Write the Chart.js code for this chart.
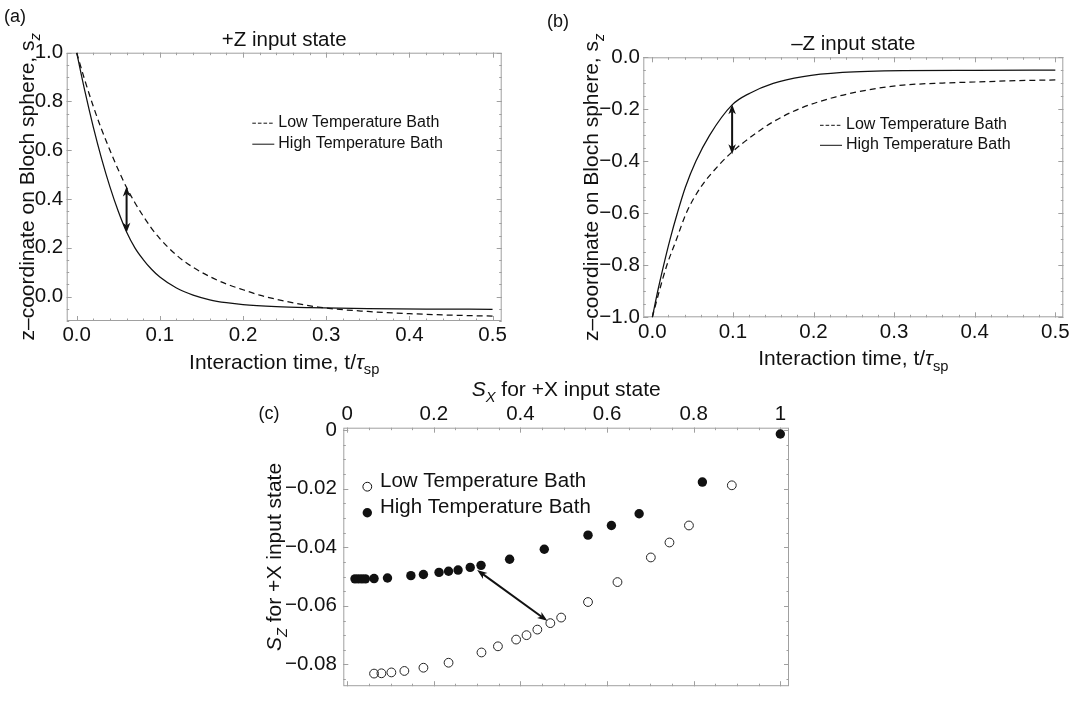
<!DOCTYPE html>
<html>
<head>
<meta charset="utf-8">
<title>Bath temperature and Bloch vector relaxation</title>
<script src="https://cdn.jsdelivr.net/npm/chart.js@4.4.0/dist/chart.umd.min.js"></script>
<style>
  html, body { margin: 0; padding: 0; background: #fff; }
  body { width: 1086px; height: 702px; position: relative; overflow: hidden; }
  canvas { position: absolute; }
  #chartA { left: 0; top: 0; }
  #chartB { left: 545px; top: 0; }
  #chartC { left: 250px; top: 370px; }
</style>
</head>
<body>
<canvas id="chartA" width="540" height="380"></canvas>
<canvas id="chartB" width="541" height="380"></canvas>
<canvas id="chartC" width="560" height="335"></canvas>
<script>
/* ===== DATA: (a) +Z input state ===== */
const aLowT  = [0, 0.01, 0.02, 0.03, 0.04, 0.05, 0.06, 0.07, 0.08, 0.09, 0.1, 0.12, 0.14, 0.16, 0.18, 0.2, 0.22, 0.25, 0.29, 0.35, 0.4, 0.45, 0.5];
const aLowS  = [1, 0.885, 0.78, 0.685, 0.6, 0.52, 0.447, 0.385, 0.33, 0.28, 0.238, 0.17, 0.12, 0.082, 0.052, 0.028, 0.006, -0.018, -0.043, -0.061, -0.07, -0.076, -0.08];
const aHighT = [0, 0.01, 0.02, 0.03, 0.04, 0.05, 0.06, 0.07, 0.08, 0.09, 0.1, 0.12, 0.14, 0.16, 0.18, 0.2, 0.24, 0.28, 0.35, 0.42, 0.5];
const aHighS = [1, 0.84, 0.695, 0.565, 0.45, 0.35, 0.265, 0.2, 0.152, 0.112, 0.08, 0.035, 0.006, -0.013, -0.025, -0.033, -0.041, -0.045, -0.049, -0.051, -0.052];
const aXTicks = [0, 0.1, 0.2, 0.3, 0.4, 0.5];
const aXLabels = ["0.0", "0.1", "0.2", "0.3", "0.4", "0.5"];
const aYTicks = [0, 0.2, 0.4, 0.6, 0.8, 1.0];
const aYLabels = ["0.0", "0.2", "0.4", "0.6", "0.8", "1.0"];
const aArrow = [0.06, 0.262, 0.06, 0.451];

/* ===== DATA: (b) -Z input state ===== */
const bLowT  = [0, 0.009, 0.018, 0.03, 0.042, 0.06, 0.084, 0.099, 0.125, 0.15, 0.183, 0.228, 0.278, 0.311, 0.36, 0.4, 0.45, 0.5];
const bLowS  = [-1, -0.895, -0.8, -0.7, -0.6, -0.5, -0.41, -0.364, -0.3, -0.248, -0.197, -0.152, -0.12, -0.107, -0.099, -0.095, -0.09, -0.087];
const bHighT = [0, 0.007, 0.014, 0.022, 0.031, 0.041, 0.054, 0.071, 0.099, 0.121, 0.15, 0.187, 0.236, 0.311, 0.4, 0.5];
const bHighS = [-1, -0.895, -0.8, -0.7, -0.6, -0.5, -0.4, -0.3, -0.183, -0.138, -0.1, -0.074, -0.058, -0.051, -0.05, -0.049];
const bXTicks = [0, 0.1, 0.2, 0.3, 0.4, 0.5];
const bXLabels = ["0.0", "0.1", "0.2", "0.3", "0.4", "0.5"];
const bYTicks = [-1, -0.8, -0.6, -0.4, -0.2, 0];
const bYLabels = ["\u22121.0", "\u22120.8", "\u22120.6", "\u22120.4", "\u22120.2", "0.0"];
const bArrow = [0.099, -0.181, 0.099, -0.373];

/* ===== DATA: (c) +X input state ===== */
const cLowX  = [0.062, 0.079, 0.102, 0.132, 0.176, 0.234, 0.310, 0.348, 0.390, 0.414, 0.439, 0.469, 0.494, 0.556, 0.624, 0.701, 0.744, 0.789, 0.888];
const cLowY  = [-0.0831, -0.0830, -0.0827, -0.0822, -0.0811, -0.0794, -0.0759, -0.0738, -0.0715, -0.0700, -0.0681, -0.0659, -0.0640, -0.0587, -0.0519, -0.0435, -0.0384, -0.0326, -0.0189];
const cHighX = [0.018, 0.026, 0.034, 0.042, 0.062, 0.093, 0.147, 0.176, 0.212, 0.234, 0.256, 0.284, 0.309, 0.375, 0.455, 0.556, 0.610, 0.674, 0.820, 1.0];
const cHighY = [-0.0508, -0.0508, -0.0508, -0.0508, -0.0507, -0.0505, -0.0497, -0.0493, -0.0486, -0.0482, -0.0478, -0.0469, -0.0462, -0.0441, -0.0407, -0.0359, -0.0326, -0.0286, -0.0178, -0.0014];
const cXTicks = [0, 0.2, 0.4, 0.6, 0.8, 1];
const cXLabels = ["0", "0.2", "0.4", "0.6", "0.8", "1"];
const cYTicks = [0, -0.02, -0.04, -0.06, -0.08];
const cYLabels = ["0", "\u22120.02", "\u22120.04", "\u22120.06", "\u22120.08"];
const cArrow = [0.300, -0.0478, 0.462, -0.0651];

/* ===== STYLE ===== */
const INK = "#111";
const FRAME = "#a0a0a0";
const FONT = "'Liberation Sans', Arial, Helvetica, sans-serif";
Chart.defaults.font.family = FONT;
Chart.defaults.color = INK;

const pts = (xs, ys) => xs.map((x, i) => ({ x, y: ys[i] }));
const fixedTicks = values => s => { s.ticks = values.map(v => ({ value: v })); };
const tickFont = { family: FONT, size: 20.5 };

/* ===== PLUGINS ===== */
function stepsIn(min, max, step) {
  const out = [];
  for (let v = Math.ceil(min / step - 1e-9) * step; v <= max + 1e-12; v += step) out.push(v);
  return out;
}

// gray frame with inward ticks on all four sides (major + minor)
const framePlugin = {
  id: "frame",
  beforeDatasetsDraw(chart, args, o) {
    const { ctx, chartArea: a, scales: { x, y } } = chart;
    ctx.save();
    ctx.strokeStyle = FRAME;
    ctx.lineWidth = 1;
    ctx.strokeRect(a.left + 0.5, a.top + 0.5, a.width - 1, a.height - 1);
    const xt = (v, len) => {
      const p = Math.round(x.getPixelForValue(v)) + 0.5;
      ctx.moveTo(p, a.top); ctx.lineTo(p, a.top + len);
      ctx.moveTo(p, a.bottom); ctx.lineTo(p, a.bottom - len);
    };
    const yt = (v, len) => {
      const p = Math.round(y.getPixelForValue(v)) + 0.5;
      ctx.moveTo(a.left, p); ctx.lineTo(a.left + len, p);
      ctx.moveTo(a.right, p); ctx.lineTo(a.right - len, p);
    };
    ctx.beginPath();
    stepsIn(x.min, x.max, o.xMinor).forEach(v => xt(v, 2.5));
    stepsIn(y.min, y.max, o.yMinor).forEach(v => yt(v, 2.5));
    x.ticks.forEach(t => xt(t.value, 5));
    y.ticks.forEach(t => yt(t.value, 5));
    ctx.stroke();
    ctx.restore();
  }
};

function arrowHead(ctx, px, py, ang, len, wid) {
  const c = Math.cos(ang), s = Math.sin(ang);
  ctx.beginPath();
  ctx.moveTo(px, py);
  ctx.lineTo(px - len * c - wid / 2 * s, py - len * s + wid / 2 * c);
  ctx.lineTo(px - 0.72 * len * c, py - 0.72 * len * s);
  ctx.lineTo(px - len * c + wid / 2 * s, py - len * s - wid / 2 * c);
  ctx.closePath();
  ctx.fill();
}

// double headed arrow between two data points
const arrowPlugin = {
  id: "arrow",
  afterDatasetsDraw(chart, args, o) {
    if (!o.line) return;
    const { ctx, scales: { x, y } } = chart;
    const [x1, y1, x2, y2] = o.line;
    const ax = x.getPixelForValue(x1), ay = y.getPixelForValue(y1);
    const bx = x.getPixelForValue(x2), by = y.getPixelForValue(y2);
    const ang = Math.atan2(by - ay, bx - ax);
    const L = o.head, k = 0.7 * L;
    ctx.save();
    ctx.strokeStyle = ctx.fillStyle = INK;
    ctx.lineWidth = o.width;
    ctx.beginPath();
    ctx.moveTo(ax + k * Math.cos(ang), ay + k * Math.sin(ang));
    ctx.lineTo(bx - k * Math.cos(ang), by - k * Math.sin(ang));
    ctx.stroke();
    arrowHead(ctx, bx, by, ang, L, o.spread);
    arrowHead(ctx, ax, ay, ang + Math.PI, L, o.spread);
    ctx.restore();
  }
};

// legend placed inside the plot frame
const keyPlugin = {
  id: "key",
  afterDraw(chart, args, o) {
    const { ctx, chartArea: a } = chart;
    ctx.save();
    ctx.font = `${o.size}px ${FONT}`;
    ctx.textBaseline = "middle";
    chart.data.datasets.forEach((ds, i) => {
      const x = a.left + o.x, y = a.top + o.y + i * o.gap;
      ctx.strokeStyle = ctx.fillStyle = INK;
      if (o.kind === "line") {
        ctx.lineWidth = 1;
        ctx.setLineDash(ds.borderDash ? [3.6, 2] : []);
        ctx.beginPath(); ctx.moveTo(x, y + 1); ctx.lineTo(x + o.sample, y + 1); ctx.stroke();
        ctx.setLineDash([]);
      } else {
        ctx.lineWidth = 1;
        ctx.beginPath();
        ctx.arc(x, y + o.markDy, ds.pointRadius, 0, 2 * Math.PI);
        if (ds.pointBackgroundColor === INK) ctx.fill(); else ctx.stroke();
      }
      ctx.fillStyle = INK;
      ctx.fillText(ds.label, x + o.textDx, y);
    });
    ctx.restore();
  }
};

// titles with sub scripts and italics, plus the panel tag
function drawRich(ctx, parts, cx, cy, size, rot) {
  ctx.save();
  ctx.translate(cx, cy);
  ctx.rotate(rot);
  ctx.textBaseline = "alphabetic";
  ctx.fillStyle = INK;
  const segs = parts.map(p => {
    const f = `${p.it ? "italic " : ""}${p.sub ? size * 0.7 : size}px ${FONT}`;
    ctx.font = f;
    return { ...p, f, w: ctx.measureText(p.t).width };
  });
  let x = -segs.reduce((s, g) => s + g.w, 0) / 2;
  const base = size * 0.36;
  segs.forEach(g => {
    ctx.font = g.f;
    ctx.fillText(g.t, x, base + (g.sub ? size * 0.28 : 0));
    x += g.w;
  });
  ctx.restore();
}

const titlesPlugin = {
  id: "richTitles",
  afterDraw(chart, args, o) {
    const { ctx, chartArea: a } = chart;
    const cx = (a.left + a.right) / 2, cy = (a.top + a.bottom) / 2;
    if (o.title) drawRich(ctx, [{ t: o.title }], cx, a.top + o.titleDy, 20.5, 0);
    const xy = o.x.from === "top" ? a.top + o.x.dy : a.bottom + o.x.dy;
    drawRich(ctx, o.x.parts, cx, xy, o.size, 0);
    drawRich(ctx, o.y.parts, a.left + o.y.dx, cy, o.size, -Math.PI / 2);
    ctx.save();
    ctx.font = `18px ${FONT}`;
    ctx.fillStyle = INK;
    ctx.textAlign = "center";
    ctx.textBaseline = "middle";
    ctx.fillText(o.tag.text, o.tag.x, o.tag.y);
    ctx.restore();
  }
};

/* ===== TITLES ===== */
const timeTitle = [{ t: "Interaction time, t/" }, { t: "\u03c4", it: true }, { t: "sp", sub: true }];
const blochTitle = [{ t: "z\u2013coordinate on Bloch sphere, s" }, { t: "z", sub: true, it: true }];
const sxTitle = [{ t: "S", it: true }, { t: "X", sub: true, it: true }, { t: " for +X input state" }];
const szTitle = [{ t: "S", it: true }, { t: "Z", sub: true, it: true }, { t: " for +X input state" }];

/* ===== CHARTS ===== */
function curveChart(id, c) {
  return new Chart(document.getElementById(id), {
    type: "line",
    data: {
      datasets: [
        { label: "Low Temperature Bath", data: pts(c.lowT, c.lowS), borderColor: INK, borderWidth: 1.25,
          borderDash: [6, 4], pointRadius: 0, cubicInterpolationMode: "monotone" },
        { label: "High Temperature Bath", data: pts(c.highT, c.highS), borderColor: INK, borderWidth: 1.25,
          pointRadius: 0, cubicInterpolationMode: "monotone" }
      ]
    },
    options: {
      responsive: false, animation: false, events: [],
      layout: { padding: { left: 0, right: c.padRight, top: c.padTop, bottom: 0 } },
      plugins: {
        legend: { display: false },
        tooltip: { enabled: false },
        title: { display: false },
        frame: { xMinor: 0.02, yMinor: 0.05 },
        arrow: { line: c.arrow, head: 10, spread: 7.5, width: 2 },
        key: { kind: "line", x: c.keyX, y: c.keyY, gap: c.keyGap, sample: 22, textDx: 26, size: 16 },
        richTitles: { size: 21, title: c.title, titleDy: -14.5,
                      x: { parts: timeTitle, dy: 40 }, y: { parts: blochTitle, dx: c.yTitleDx }, tag: c.tag }
      },
      scales: {
        x: { type: "linear", min: c.xMin, max: c.xMax,
             grid: { display: false, drawTicks: false }, border: { display: false },
             afterBuildTicks: fixedTicks(c.xTicks), afterFit: s => { s.height = c.xHeight; },
             ticks: { callback: (v, i) => c.xLabels[i], font: tickFont, color: INK, padding: 2.5, maxRotation: 0, autoSkip: false } },
        y: { type: "linear", min: c.yMin, max: c.yMax,
             grid: { display: false, drawTicks: false }, border: { display: false },
             afterBuildTicks: fixedTicks(c.yTicks), afterFit: s => { s.width = c.yWidth; },
             ticks: { callback: (v, i) => c.yLabels[i], font: tickFont, color: INK, padding: 3.5, autoSkip: false } }
      }
    },
    plugins: [framePlugin, arrowPlugin, keyPlugin, titlesPlugin]
  });
}

curveChart("chartA", {
  lowT: aLowT, lowS: aLowS, highT: aHighT, highS: aHighS, arrow: aArrow,
  xTicks: aXTicks, xLabels: aXLabels, yTicks: aYTicks, yLabels: aYLabels,
  xMin: -0.012, xMax: 0.511, yMin: -0.1, yMax: 1.0,
  title: "+Z input state", padTop: 52.7,
  padRight: 38.3, xHeight: 59, yWidth: 66.7,
  keyX: 185.6, keyY: 69.5, keyGap: 21,
  yTitleDx: -40, tag: { text: "(a)", x: 15, y: 17 }
});

curveChart("chartB", {
  lowT: bLowT, lowS: bLowS, highT: bHighT, highS: bHighS, arrow: bArrow,
  xTicks: bXTicks, xLabels: bXLabels, yTicks: bYTicks, yLabels: bYLabels,
  xMin: -0.0112, xMax: 0.5099, yMin: -1.0, yMax: 0,
  title: "\u2013Z input state", padTop: 57.3,
  padRight: 22.7, xHeight: 62.7, yWidth: 98.3,
  keyX: 176.7, keyY: 67, keyGap: 20,
  yTitleDx: -53, tag: { text: "(b)", x: 13, y: 22 }
});

new Chart(document.getElementById("chartC"), {
  type: "scatter",
  data: {
    datasets: [
      { label: "Low Temperature Bath", data: pts(cLowX, cLowY), pointRadius: 4.4, pointBorderWidth: 1,
        pointBorderColor: "#222", pointBackgroundColor: "rgba(0,0,0,0)" },
      { label: "High Temperature Bath", data: pts(cHighX, cHighY), pointRadius: 4.7, pointBorderWidth: 0,
        pointBorderColor: INK, pointBackgroundColor: INK }
    ]
  },
  options: {
    responsive: false, animation: false, events: [],
    layout: { padding: { left: 0, right: 21, top: 0, bottom: 2 } },
    plugins: {
      legend: { display: false },
      tooltip: { enabled: false },
      frame: { xMinor: 0.05, yMinor: 0.005 },
      arrow: { line: cArrow, head: 10, spread: 7.5, width: 2 },
      key: { kind: "point", x: 24, y: 54, gap: 26, textDx: 12.7, markDy: 5, size: 20.5 },
      richTitles: { size: 21, x: { parts: sxTitle, from: "top", dy: -39 }, y: { parts: szTitle, dx: -70 },
                    tag: { text: "(c)", x: 19, y: 44 } }
    },
    scales: {
      x: { type: "linear", position: "top", min: -0.009, max: 1.02,
           grid: { display: false, drawTicks: false }, border: { display: false },
           afterBuildTicks: fixedTicks(cXTicks), afterFit: s => { s.height = 57.7; },
           ticks: { callback: (v, i) => cXLabels[i], font: tickFont, color: INK, padding: 1, maxRotation: 0, autoSkip: false } },
      y: { type: "linear", min: -0.0874, max: 0.00074,
           grid: { display: false, drawTicks: false }, border: { display: false },
           afterBuildTicks: fixedTicks(cYTicks), afterFit: s => { s.width = 93.3; },
           ticks: { callback: (v, i) => cYLabels[i], font: tickFont, color: INK, padding: 6.5, autoSkip: false } }
    }
  },
  plugins: [framePlugin, arrowPlugin, keyPlugin, titlesPlugin]
});
</script>
</body>
</html>
